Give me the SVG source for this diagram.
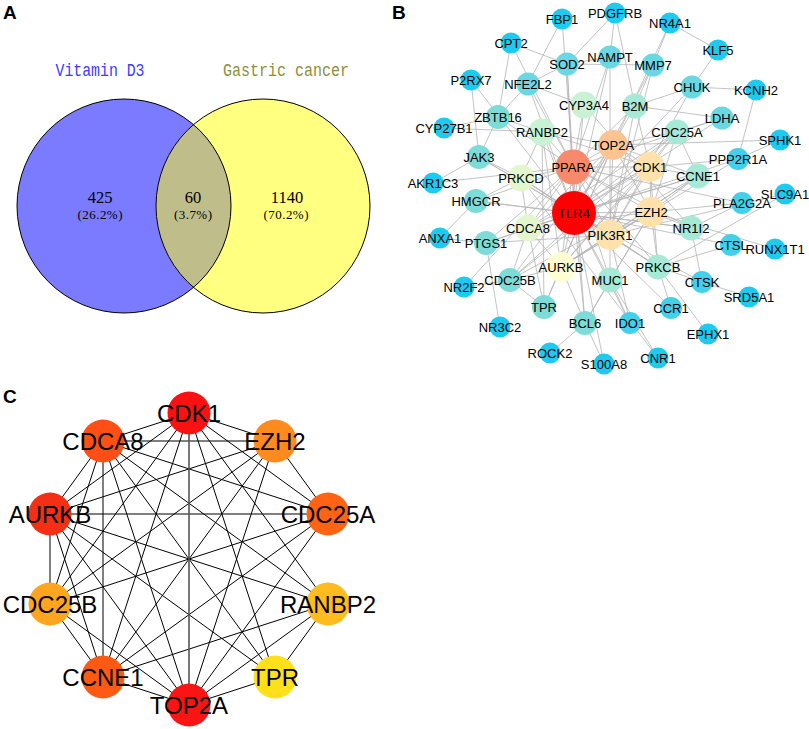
<svg xmlns="http://www.w3.org/2000/svg" width="809" height="729" viewBox="0 0 809 729">
<style>
.pl{font-family:"Liberation Sans",Arial,sans-serif;font-weight:bold;font-size:19px;fill:#000}
.vt{font-family:"Liberation Mono","Courier New",monospace;font-size:18px;text-anchor:middle}
.vn{font-family:"Liberation Serif","Times New Roman",serif;font-size:16.5px;text-anchor:middle;fill:#000}
.vp{font-family:"Liberation Serif","Times New Roman",serif;font-size:13px;text-anchor:middle;fill:#000}
.be line{stroke:#b4b4b4;stroke-width:0.8}
.bn text{font-family:"Liberation Sans",Arial,sans-serif;font-size:13px;text-anchor:middle;fill:#000}
.c0{fill:#1ecaf0}.c1{fill:#44cfea}.c2{fill:#6ad8e2}.c3{fill:#7edcd8}.c4{fill:#a6e9d6}.c5{fill:#c8f2d3}
.c6{fill:#e4f6ce}.c7{fill:#fffdd2}.c8{fill:#ffe1ac}.c9{fill:#fec391}.c10{fill:#f88a6b}.c11{fill:#ff0000}
.ce line{stroke:#000;stroke-width:1}
.cn text{font-family:"Liberation Sans",Arial,sans-serif;font-size:24px;text-anchor:middle;fill:#000}
</style>
<defs>
<clipPath id="clipL"><circle cx="124" cy="206" r="107"/></clipPath>
</defs>
<rect width="809" height="729" fill="#fff"/>

<!-- Panel labels -->
<text class="pl" x="3" y="19">A</text>
<text class="pl" x="392" y="19">B</text>
<text class="pl" x="3" y="403">C</text>

<!-- Panel A: Venn -->
<g id="venn">
<circle cx="124" cy="206" r="107" fill="#7b7bff"/>
<circle cx="263" cy="206" r="107" fill="#ffff80"/>
<circle cx="263" cy="206" r="107" fill="#bfbe8a" clip-path="url(#clipL)"/>
<circle cx="124" cy="206" r="107" fill="none" stroke="#000" stroke-width="1"/>
<circle cx="263" cy="206" r="107" fill="none" stroke="#000" stroke-width="1"/>
<text class="vt" x="100" y="76" fill="#3c3cff" textLength="89" lengthAdjust="spacingAndGlyphs">Vitamin D3</text>
<text class="vt" x="286" y="76" fill="#8e8e3a" textLength="126" lengthAdjust="spacingAndGlyphs">Gastric cancer</text>
<text class="vn" x="100" y="203">425</text>
<text class="vp" x="100" y="219" textLength="45" lengthAdjust="spacing">(26.2%)</text>
<text class="vn" x="193" y="203">60</text>
<text class="vp" x="193" y="219" textLength="38" lengthAdjust="spacing">(3.7%)</text>
<text class="vn" x="287" y="203">1140</text>
<text class="vp" x="286" y="219" textLength="45" lengthAdjust="spacing">(70.2%)</text>
</g>

<!-- Panel B connectors -->
<g id="b-edges" class="be">
<line x1="574" y1="213" x2="573" y2="167"/><line x1="574" y1="213" x2="613" y2="145"/><line x1="574" y1="213" x2="650" y2="167"/>
<line x1="574" y1="213" x2="651" y2="212"/><line x1="574" y1="213" x2="610" y2="235"/><line x1="574" y1="213" x2="561" y2="267"/>
<line x1="574" y1="213" x2="528" y2="228"/><line x1="574" y1="213" x2="521" y2="178"/><line x1="574" y1="213" x2="542" y2="132"/>
<line x1="574" y1="213" x2="584" y2="105"/><line x1="573" y1="167" x2="613" y2="145"/><line x1="573" y1="167" x2="650" y2="167"/>
<line x1="573" y1="167" x2="651" y2="212"/><line x1="573" y1="167" x2="610" y2="235"/><line x1="573" y1="167" x2="528" y2="228"/>
<line x1="573" y1="167" x2="521" y2="178"/><line x1="573" y1="167" x2="542" y2="132"/><line x1="573" y1="167" x2="584" y2="105"/>
<line x1="573" y1="167" x2="561" y2="267"/><line x1="613" y1="145" x2="650" y2="167"/><line x1="613" y1="145" x2="651" y2="212"/>
<line x1="613" y1="145" x2="561" y2="267"/><line x1="613" y1="145" x2="528" y2="228"/><line x1="613" y1="145" x2="542" y2="132"/>
<line x1="613" y1="145" x2="610" y2="235"/><line x1="650" y1="167" x2="651" y2="212"/><line x1="650" y1="167" x2="561" y2="267"/>
<line x1="650" y1="167" x2="528" y2="228"/><line x1="650" y1="167" x2="542" y2="132"/><line x1="650" y1="167" x2="610" y2="235"/>
<line x1="651" y1="212" x2="561" y2="267"/><line x1="651" y1="212" x2="528" y2="228"/><line x1="651" y1="212" x2="610" y2="235"/>
<line x1="561" y1="267" x2="528" y2="228"/><line x1="561" y1="267" x2="542" y2="132"/><line x1="610" y1="235" x2="561" y2="267"/>
<line x1="610" y1="235" x2="521" y2="178"/><line x1="521" y1="178" x2="528" y2="228"/><line x1="521" y1="178" x2="542" y2="132"/>
<line x1="677" y1="132" x2="650" y2="167"/><line x1="677" y1="132" x2="613" y2="145"/><line x1="677" y1="132" x2="698" y2="176"/>
<line x1="677" y1="132" x2="561" y2="267"/><line x1="677" y1="132" x2="510" y2="280"/><line x1="677" y1="132" x2="651" y2="212"/>
<line x1="677" y1="132" x2="528" y2="228"/><line x1="677" y1="132" x2="574" y2="213"/>
<line x1="698" y1="176" x2="650" y2="167"/><line x1="698" y1="176" x2="613" y2="145"/><line x1="698" y1="176" x2="651" y2="212"/>
<line x1="698" y1="176" x2="561" y2="267"/><line x1="698" y1="176" x2="528" y2="228"/><line x1="698" y1="176" x2="510" y2="280"/>
<line x1="698" y1="176" x2="574" y2="213"/><line x1="698" y1="176" x2="610" y2="235"/>
<line x1="635" y1="106" x2="574" y2="213"/><line x1="635" y1="106" x2="573" y2="167"/><line x1="635" y1="106" x2="610" y2="235"/><line x1="635" y1="106" x2="650" y2="167"/>
<line x1="610" y1="280" x2="574" y2="213"/><line x1="610" y1="280" x2="610" y2="235"/><line x1="610" y1="280" x2="573" y2="167"/><line x1="610" y1="280" x2="651" y2="212"/><line x1="610" y1="280" x2="585" y2="323"/>
<line x1="658" y1="267" x2="574" y2="213"/><line x1="658" y1="267" x2="610" y2="235"/><line x1="658" y1="267" x2="573" y2="167"/><line x1="658" y1="267" x2="651" y2="212"/><line x1="658" y1="267" x2="650" y2="167"/><line x1="658" y1="267" x2="521" y2="178"/>
<line x1="691" y1="228" x2="573" y2="167"/><line x1="691" y1="228" x2="584" y2="105"/><line x1="691" y1="228" x2="574" y2="213"/><line x1="691" y1="228" x2="651" y2="212"/>
<line x1="510" y1="280" x2="650" y2="167"/><line x1="510" y1="280" x2="613" y2="145"/><line x1="510" y1="280" x2="561" y2="267"/><line x1="510" y1="280" x2="528" y2="228"/><line x1="510" y1="280" x2="544" y2="307"/>
<line x1="544" y1="307" x2="542" y2="132"/><line x1="544" y1="307" x2="561" y2="267"/><line x1="544" y1="307" x2="528" y2="228"/><line x1="544" y1="307" x2="613" y2="145"/>
<line x1="585" y1="323" x2="574" y2="213"/><line x1="585" y1="323" x2="573" y2="167"/><line x1="585" y1="323" x2="651" y2="212"/><line x1="585" y1="323" x2="561" y2="267"/>
<line x1="486" y1="243" x2="573" y2="167"/><line x1="486" y1="243" x2="574" y2="213"/><line x1="486" y1="243" x2="610" y2="235"/><line x1="486" y1="243" x2="528" y2="228"/>
<line x1="476" y1="201" x2="573" y2="167"/><line x1="476" y1="201" x2="574" y2="213"/><line x1="476" y1="201" x2="521" y2="178"/><line x1="476" y1="201" x2="691" y2="228"/>
<line x1="479" y1="157" x2="574" y2="213"/><line x1="479" y1="157" x2="610" y2="235"/><line x1="479" y1="157" x2="521" y2="178"/><line x1="479" y1="157" x2="498" y2="117"/>
<line x1="498" y1="117" x2="573" y2="167"/><line x1="498" y1="117" x2="542" y2="132"/><line x1="498" y1="117" x2="511" y2="43"/><line x1="498" y1="117" x2="528" y2="84"/>
<line x1="528" y1="84" x2="574" y2="213"/><line x1="528" y1="84" x2="573" y2="167"/><line x1="528" y1="84" x2="567" y2="64"/><line x1="528" y1="84" x2="584" y2="105"/>
<line x1="567" y1="64" x2="573" y2="167"/><line x1="567" y1="64" x2="574" y2="213"/><line x1="567" y1="64" x2="610" y2="57"/><line x1="567" y1="64" x2="653" y2="65"/>
<line x1="610" y1="57" x2="574" y2="213"/><line x1="610" y1="57" x2="573" y2="167"/><line x1="610" y1="57" x2="610" y2="235"/>
<line x1="653" y1="65" x2="574" y2="213"/><line x1="653" y1="65" x2="610" y2="235"/><line x1="653" y1="65" x2="635" y2="106"/>
<line x1="692" y1="87" x2="574" y2="213"/><line x1="692" y1="87" x2="610" y2="235"/><line x1="692" y1="87" x2="756" y2="90"/><line x1="692" y1="87" x2="718" y2="50"/><line x1="692" y1="87" x2="635" y2="106"/>
<line x1="722" y1="118" x2="677" y2="132"/><line x1="722" y1="118" x2="635" y2="106"/><line x1="722" y1="118" x2="573" y2="167"/><line x1="722" y1="118" x2="574" y2="213"/>
<line x1="562" y1="19" x2="528" y2="84"/><line x1="562" y1="19" x2="573" y2="167"/>
<line x1="615" y1="13" x2="610" y2="57"/><line x1="615" y1="13" x2="635" y2="106"/><line x1="615" y1="13" x2="567" y2="64"/>
<line x1="670" y1="23" x2="718" y2="50"/><line x1="670" y1="23" x2="653" y2="65"/><line x1="670" y1="23" x2="613" y2="145"/>
<line x1="511" y1="43" x2="567" y2="64"/><line x1="511" y1="43" x2="573" y2="167"/>
<line x1="471" y1="80" x2="574" y2="213"/><line x1="471" y1="80" x2="479" y2="157"/>
<line x1="756" y1="90" x2="738" y2="159"/>
<line x1="444" y1="128" x2="542" y2="132"/><line x1="444" y1="128" x2="498" y2="117"/>
<line x1="780" y1="140" x2="613" y2="145"/><line x1="780" y1="140" x2="738" y2="159"/>
<line x1="738" y1="159" x2="650" y2="167"/><line x1="738" y1="159" x2="561" y2="267"/><line x1="738" y1="159" x2="574" y2="213"/>
<line x1="433" y1="183" x2="479" y2="157"/><line x1="433" y1="183" x2="573" y2="167"/>
<line x1="785" y1="194" x2="658" y2="267"/><line x1="785" y1="194" x2="610" y2="235"/>
<line x1="742" y1="203" x2="651" y2="212"/><line x1="742" y1="203" x2="573" y2="167"/><line x1="742" y1="203" x2="691" y2="228"/>
<line x1="440" y1="238" x2="486" y2="243"/><line x1="440" y1="238" x2="476" y2="201"/>
<line x1="731" y1="245" x2="574" y2="213"/><line x1="731" y1="245" x2="658" y2="267"/>
<line x1="775" y1="249" x2="651" y2="212"/>
<line x1="464" y1="287" x2="510" y2="280"/><line x1="464" y1="287" x2="573" y2="167"/>
<line x1="702" y1="282" x2="658" y2="267"/><line x1="702" y1="282" x2="691" y2="228"/><line x1="702" y1="282" x2="574" y2="213"/>
<line x1="749" y1="297" x2="702" y2="282"/>
<line x1="500" y1="327" x2="486" y2="243"/>
<line x1="671" y1="308" x2="658" y2="267"/><line x1="671" y1="308" x2="574" y2="213"/>
<line x1="630" y1="323" x2="610" y2="235"/><line x1="630" y1="323" x2="574" y2="213"/><line x1="630" y1="323" x2="610" y2="280"/>
<line x1="708" y1="334" x2="658" y2="267"/>
<line x1="550" y1="353" x2="585" y2="323"/>
<line x1="604" y1="364" x2="585" y2="323"/><line x1="604" y1="364" x2="574" y2="213"/>
<line x1="658" y1="358" x2="610" y2="280"/><line x1="658" y1="358" x2="521" y2="178"/>
</g>

<!-- Panel B nodes -->
<g class="bn">
<g id="b-FBP1"><circle class="c0" cx="562" cy="19" r="10.5"/><text x="562" y="23.5">FBP1</text></g>
<g id="b-PDGFRB"><circle class="c0" cx="615" cy="13" r="10.5"/><text x="615" y="17.5">PDGFRB</text></g>
<g id="b-NR4A1"><circle class="c0" cx="670" cy="23" r="10.5"/><text x="670" y="27.5">NR4A1</text></g>
<g id="b-KLF5"><circle class="c0" cx="718" cy="50" r="10.5"/><text x="718" y="54.5">KLF5</text></g>
<g id="b-CPT2"><circle class="c0" cx="511" cy="43" r="10.5"/><text x="511" y="47.5">CPT2</text></g>
<g id="b-SOD2"><circle class="c2" cx="567" cy="64" r="11.5"/><text x="567" y="68.5">SOD2</text></g>
<g id="b-NAMPT"><circle class="c2" cx="610" cy="57" r="11.5"/><text x="610" y="61.5">NAMPT</text></g>
<g id="b-MMP7"><circle class="c2" cx="653" cy="65" r="11.5"/><text x="653" y="69.5">MMP7</text></g>
<g id="b-P2RX7"><circle class="c0" cx="471" cy="80" r="10.5"/><text x="471" y="84.5">P2RX7</text></g>
<g id="b-NFE2L2"><circle class="c2" cx="528" cy="84" r="11.5"/><text x="528" y="88.5">NFE2L2</text></g>
<g id="b-CHUK"><circle class="c2" cx="692" cy="87" r="11.5"/><text x="692" y="91.5">CHUK</text></g>
<g id="b-KCNH2"><circle class="c0" cx="756" cy="90" r="10.5"/><text x="756" y="94.5">KCNH2</text></g>
<g id="b-CYP3A4"><circle class="c5" cx="584" cy="105" r="13.5"/><text x="584" y="109.5">CYP3A4</text></g>
<g id="b-B2M"><circle class="c4" cx="635" cy="106" r="12.5"/><text x="635" y="110.5">B2M</text></g>
<g id="b-ZBTB16"><circle class="c3" cx="498" cy="117" r="12"/><text x="498" y="121.5">ZBTB16</text></g>
<g id="b-LDHA"><circle class="c2" cx="722" cy="118" r="11.5"/><text x="722" y="122.5">LDHA</text></g>
<g id="b-CYP27B1"><circle class="c0" cx="444" cy="128" r="10.5"/><text x="444" y="132.5">CYP27B1</text></g>
<g id="b-RANBP2"><circle class="c5" cx="542" cy="132" r="13.5"/><text x="542" y="136.5">RANBP2</text></g>
<g id="b-CDC25A"><circle class="c4" cx="677" cy="132" r="12.5"/><text x="677" y="136.5">CDC25A</text></g>
<g id="b-SPHK1"><circle class="c0" cx="780" cy="140" r="10.5"/><text x="780" y="144.5">SPHK1</text></g>
<g id="b-TOP2A"><circle class="c9" cx="613" cy="145" r="15"/><text x="613" y="149.5">TOP2A</text></g>
<g id="b-JAK3"><circle class="c3" cx="479" cy="157" r="12"/><text x="479" y="161.5">JAK3</text></g>
<g id="b-PPP2R1A"><circle class="c1" cx="738" cy="159" r="11"/><text x="738" y="163.5">PPP2R1A</text></g>
<g id="b-PPARA"><circle class="c10" cx="573" cy="167" r="17.5"/><text x="573" y="171.5">PPARA</text></g>
<g id="b-CDK1"><circle class="c8" cx="650" cy="167" r="15"/><text x="650" y="171.5">CDK1</text></g>
<g id="b-CCNE1"><circle class="c4" cx="698" cy="176" r="12.5"/><text x="698" y="180.5">CCNE1</text></g>
<g id="b-PRKCD"><circle class="c6" cx="521" cy="178" r="13.5"/><text x="521" y="182.5">PRKCD</text></g>
<g id="b-AKR1C3"><circle class="c0" cx="433" cy="183" r="10.5"/><text x="433" y="187.5">AKR1C3</text></g>
<g id="b-SLC9A1"><circle class="c0" cx="785" cy="194" r="10.5"/><text x="785" y="198.5">SLC9A1</text></g>
<g id="b-HMGCR"><circle class="c3" cx="476" cy="201" r="12"/><text x="476" y="205.5">HMGCR</text></g>
<g id="b-PLA2G2A"><circle class="c1" cx="742" cy="203" r="11"/><text x="742" y="207.5">PLA2G2A</text></g>
<g id="b-EZH2"><circle class="c8" cx="651" cy="212" r="15"/><text x="651" y="216.5">EZH2</text></g>
<g id="b-TLR4"><circle class="c11" cx="574" cy="213" r="22"/><text x="574" y="217.5">TLR4</text></g>
<g id="b-CDCA8"><circle class="c6" cx="528" cy="228" r="13.5"/><text x="528" y="232.5">CDCA8</text></g>
<g id="b-NR1I2"><circle class="c4" cx="691" cy="228" r="12.5"/><text x="691" y="232.5">NR1I2</text></g>
<g id="b-PIK3R1"><circle class="c8" cx="610" cy="235" r="15"/><text x="610" y="239.5">PIK3R1</text></g>
<g id="b-ANXA1"><circle class="c0" cx="440" cy="238" r="10.5"/><text x="440" y="242.5">ANXA1</text></g>
<g id="b-PTGS1"><circle class="c3" cx="486" cy="243" r="12"/><text x="486" y="247.5">PTGS1</text></g>
<g id="b-CTSL"><circle class="c1" cx="731" cy="245" r="11"/><text x="731" y="249.5">CTSL</text></g>
<g id="b-RUNX1T1"><circle class="c0" cx="775" cy="249" r="10.5"/><text x="775" y="253.5">RUNX1T1</text></g>
<g id="b-AURKB"><circle class="c7" cx="561" cy="267" r="15"/><text x="561" y="271.5">AURKB</text></g>
<g id="b-PRKCB"><circle class="c4" cx="658" cy="267" r="12.5"/><text x="658" y="271.5">PRKCB</text></g>
<g id="b-CDC25B"><circle class="c3" cx="510" cy="280" r="12"/><text x="510" y="284.5">CDC25B</text></g>
<g id="b-MUC1"><circle class="c4" cx="610" cy="280" r="12.5"/><text x="610" y="284.5">MUC1</text></g>
<g id="b-CTSK"><circle class="c1" cx="702" cy="282" r="11"/><text x="702" y="286.5">CTSK</text></g>
<g id="b-NR2F2"><circle class="c0" cx="464" cy="287" r="10.5"/><text x="464" y="291.5">NR2F2</text></g>
<g id="b-SRD5A1"><circle class="c0" cx="749" cy="297" r="10.5"/><text x="749" y="301.5">SRD5A1</text></g>
<g id="b-TPR"><circle class="c3" cx="544" cy="307" r="12"/><text x="544" y="311.5">TPR</text></g>
<g id="b-CCR1"><circle class="c1" cx="671" cy="308" r="11"/><text x="671" y="312.5">CCR1</text></g>
<g id="b-BCL6"><circle class="c3" cx="585" cy="323" r="12"/><text x="585" y="327.5">BCL6</text></g>
<g id="b-IDO1"><circle class="c1" cx="630" cy="323" r="11"/><text x="630" y="327.5">IDO1</text></g>
<g id="b-NR3C2"><circle class="c0" cx="500" cy="327" r="10.5"/><text x="500" y="331.5">NR3C2</text></g>
<g id="b-EPHX1"><circle class="c0" cx="708" cy="334" r="10.5"/><text x="708" y="338.5">EPHX1</text></g>
<g id="b-ROCK2"><circle class="c0" cx="550" cy="353" r="10.5"/><text x="550" y="357.5">ROCK2</text></g>
<g id="b-CNR1"><circle class="c0" cx="658" cy="358" r="10.5"/><text x="658" y="362.5">CNR1</text></g>
<g id="b-S100A8"><circle class="c0" cx="604" cy="364" r="10.5"/><text x="604" y="368.5">S100A8</text></g>
</g>

<!-- Panel C connectors -->
<g id="c-edges" class="ce">
<line x1="189" y1="413" x2="275" y2="441"/><line x1="189" y1="413" x2="328" y2="514"/><line x1="189" y1="413" x2="328" y2="604"/>
<line x1="189" y1="413" x2="275" y2="677"/><line x1="189" y1="413" x2="103" y2="677"/>
<line x1="189" y1="413" x2="50" y2="604"/><line x1="189" y1="413" x2="50" y2="514"/><line x1="189" y1="413" x2="103" y2="441"/>
<line x1="275" y1="441" x2="328" y2="514"/><line x1="275" y1="441" x2="189" y2="705"/><line x1="275" y1="441" x2="103" y2="677"/>
<line x1="275" y1="441" x2="50" y2="604"/><line x1="275" y1="441" x2="50" y2="514"/><line x1="275" y1="441" x2="103" y2="441"/>
<line x1="328" y1="514" x2="189" y2="705"/><line x1="328" y1="514" x2="103" y2="677"/><line x1="328" y1="514" x2="50" y2="604"/>
<line x1="328" y1="514" x2="50" y2="514"/><line x1="328" y1="514" x2="103" y2="441"/>
<line x1="328" y1="604" x2="275" y2="677"/><line x1="328" y1="604" x2="189" y2="705"/><line x1="328" y1="604" x2="103" y2="677"/>
<line x1="328" y1="604" x2="50" y2="514"/><line x1="328" y1="604" x2="103" y2="441"/>
<line x1="275" y1="677" x2="189" y2="705"/><line x1="275" y1="677" x2="50" y2="514"/><line x1="275" y1="677" x2="103" y2="441"/>
<line x1="189" y1="705" x2="103" y2="677"/><line x1="189" y1="705" x2="50" y2="604"/><line x1="189" y1="705" x2="50" y2="514"/>
<line x1="189" y1="705" x2="103" y2="441"/>
<line x1="103" y1="677" x2="50" y2="604"/><line x1="103" y1="677" x2="50" y2="514"/><line x1="103" y1="677" x2="103" y2="441"/>
<line x1="50" y1="604" x2="50" y2="514"/><line x1="50" y1="604" x2="103" y2="441"/>
<line x1="50" y1="514" x2="103" y2="441"/>
<line x1="189" y1="413" x2="189" y2="705" style="stroke:#555;stroke-width:1.6"/>
</g>

<!-- Panel C nodes -->
<g class="cn">
<g id="c-CDK1"><circle cx="189" cy="413" r="21.5" fill="#fa1212"/><text x="189" y="421.5">CDK1</text></g>
<g id="c-EZH2"><circle cx="275" cy="441" r="21.5" fill="#ff8a1e"/><text x="275" y="449.5">EZH2</text></g>
<g id="c-CDC25A"><circle cx="328" cy="514" r="21.5" fill="#ff6414"/><text x="328" y="522.5">CDC25A</text></g>
<g id="c-RANBP2"><circle cx="328" cy="604" r="21.5" fill="#ffbc1e"/><text x="328" y="612.5">RANBP2</text></g>
<g id="c-TPR"><circle cx="275" cy="677" r="21.5" fill="#ffe01a"/><text x="275" y="685.5">TPR</text></g>
<g id="c-TOP2A"><circle cx="189" cy="705" r="21.5" fill="#fa1414"/><text x="189" y="713.5">TOP2A</text></g>
<g id="c-CCNE1"><circle cx="103" cy="677" r="21.5" fill="#ff5a14"/><text x="103" y="685.5">CCNE1</text></g>
<g id="c-CDC25B"><circle cx="50" cy="604" r="21.5" fill="#ffa51e"/><text x="50" y="612.5">CDC25B</text></g>
<g id="c-AURKB"><circle cx="50" cy="514" r="21.5" fill="#f52f14"/><text x="50" y="522.5">AURKB</text></g>
<g id="c-CDCA8"><circle cx="103" cy="441" r="21.5" fill="#ff4f14"/><text x="103" y="449.5">CDCA8</text></g>
</g>
</svg>
